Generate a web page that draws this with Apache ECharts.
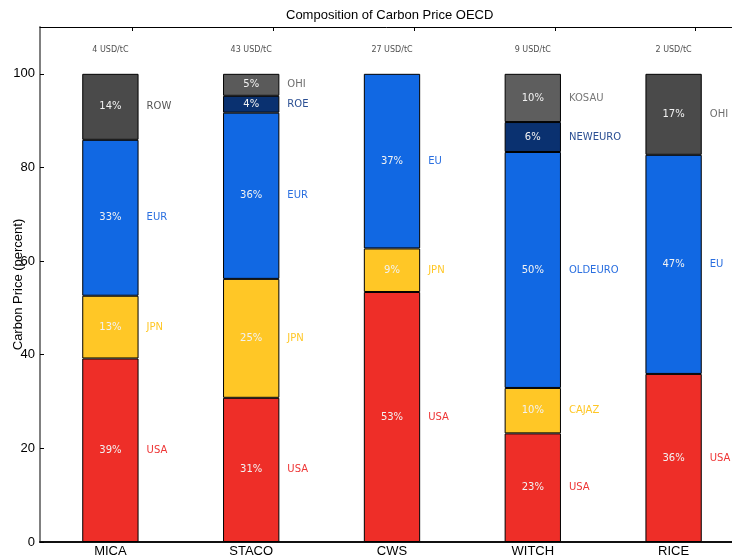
<!DOCTYPE html>
<html><head><meta charset="utf-8">
<script src="https://cdn.jsdelivr.net/npm/echarts@6/dist/echarts.min.js"></script>
<style>html,body{margin:0;padding:0;background:#fff}#c{width:732px;height:555px}</style>
</head><body><div id="c"></div>
<script>
// ---- data ----
const models = ['MICA', 'STACO', 'CWS', 'WITCH', 'RICE'];
const pricesUSDperTC = [4, 43, 27, 9, 2];
const yTicks = [0, 20, 40, 60, 80, 100];
const micaRegions = ['USA', 'JPN', 'EUR', 'ROW'];
const micaShares = [39.2, 13.4, 33.3, 14.1];
const stacoRegions = ['USA', 'JPN', 'EUR', 'ROE', 'OHI'];
const stacoShares = [30.8, 25.4, 35.5, 3.6, 4.7];
const cwsRegions = ['USA', 'JPN', 'EU'];
const cwsShares = [53.4, 9.3, 37.3];
const witchRegions = ['USA', 'CAJAZ', 'OLDEURO', 'NEWEURO', 'KOSAU'];
const witchShares = [23.2, 9.7, 50.4, 6.4, 10.3];
const riceRegions = ['USA', 'EU', 'OHI'];
const riceShares = [35.9, 46.8, 17.3];

// ---- styles ----
const fillColor = {
  USA: '#EE2E28', JPN: '#FFC726', CAJAZ: '#FFC726',
  EUR: '#1168E3', EU: '#1168E3', OLDEURO: '#1168E3',
  ROE: '#0A3170', NEWEURO: '#0A3170',
  ROW: '#4A4A4A', OHI: '#4A4A4A', KOSAU: '#5E5E5E'
};
const fillOverride = { 'STACO:OHI': '#5A5A5A' };
const textColor = {
  USA: '#EE3535', JPN: '#FFC726', CAJAZ: '#FFC726',
  EUR: '#2A6FE0', EU: '#2A6FE0', OLDEURO: '#2A6FE0',
  ROE: '#2B4F93', NEWEURO: '#2B4F93',
  ROW: '#555555', OHI: '#6E6E6E', KOSAU: '#777777'
};

const regionLists = [micaRegions, stacoRegions, cwsRegions, witchRegions, riceRegions];
const shareLists = [micaShares, stacoShares, cwsShares, witchShares, riceShares];
const levels = Math.max(...shareLists.map(s => s.length));

const series = [];
for (let lv = 0; lv < levels; lv++) {
  const dataMain = [], dataName = [];
  models.forEach((m, i) => {
    const v = shareLists[i][lv];
    if (v === undefined) { dataMain.push('-'); dataName.push('-'); return; }
    const r = regionLists[i][lv];
    dataMain.push({
      value: v,
      itemStyle: { color: fillOverride[m + ':' + r] || fillColor[r] }
    });
    dataName.push({
      value: v, region: r,
      label: { color: textColor[r] }
    });
  });
  series.push({
    type: 'bar', stack: 'shares', xAxisIndex: 0, yAxisIndex: 0,
    barWidth: '40%', barGap: '-100%',
    data: dataMain,
    itemStyle: { borderColor: '#000', borderWidth: 1 },
    label: {
      show: true, position: 'inside', color: '#F2F2F2',
      fontFamily: 'DejaVu Sans', fontSize: 10,
      formatter: p => Math.round(p.value) + '%'
    },
    silent: true, animation: false
  });
  series.push({
    type: 'bar', stack: 'names', xAxisIndex: 0, yAxisIndex: 0,
    barWidth: '40%', barGap: '-100%',
    data: dataName,
    itemStyle: { color: 'rgba(0,0,0,0)', borderWidth: 0 },
    label: {
      show: true, position: 'right', distance: 8,
      fontFamily: 'DejaVu Sans', fontSize: 10,
      formatter: p => p.data.region
    },
    silent: true, animation: false, z: 3
  });
}
// price annotations above bars
series.push({
  type: 'scatter', xAxisIndex: 0, yAxisIndex: 0,
  symbolSize: 0,
  data: pricesUSDperTC.map(p => 105),
  label: {
    show: true, position: 'inside', color: '#222',
    fontFamily: 'DejaVu Sans', fontSize: 8,
    formatter: p => pricesUSDperTC[p.dataIndex] + ' USD/tC'
  },
  silent: true, animation: false
});

const chart = echarts.init(document.getElementById('c'), null, { renderer: 'canvas' });
chart.setOption({
  animation: false,
  backgroundColor: '#fff',
  title: {
    text: 'Composition of Carbon Price OECD',
    left: 286, top: 9, padding: 0,
    textStyle: { fontFamily: 'Liberation Sans', fontSize: 13, fontWeight: 'normal', color: '#000' }
  },
  grid: [
    { left: 40, right: -12, top: 27, bottom: 13, outerBoundsMode: 'none', containLabel: false },
    { left: 62, right: -34, top: 27, bottom: 13, outerBoundsMode: 'none', containLabel: false }
  ],
  xAxis: [
    {
      type: 'category', gridIndex: 0, position: 'bottom', data: models,
      axisLine: { onZero: false, lineStyle: { color: '#111', width: 2 } },
      axisTick: { show: false },
      axisLabel: { color: '#000', fontFamily: 'Liberation Sans', fontSize: 13, margin: 3 }
    },
    {
      type: 'category', gridIndex: 0, position: 'top', data: models,
      axisLine: { onZero: false, lineStyle: { color: '#000', width: 1 } },
      axisTick: { show: false }, axisLabel: { show: false }
    },
    {
      type: 'category', gridIndex: 1, position: 'top', data: models,
      axisLine: { show: false, onZero: false },
      axisTick: { show: true, alignWithLabel: true, inside: true, length: 4, lineStyle: { color: '#000', width: 1 } },
      axisLabel: { show: false }
    }
  ],
  yAxis: [
    {
      type: 'value', gridIndex: 0, min: 0, max: 110,
      name: 'Carbon Price (percent)', nameLocation: 'middle', nameGap: 15,
      nameMoveOverlap: false,
      nameTextStyle: { fontFamily: 'Liberation Sans', fontSize: 13, color: '#000' },
      axisLine: { show: true, onZero: false, lineStyle: { color: '#808080', width: 2 } },
      axisTick: { show: true, inside: true, length: 4, customValues: yTicks, lineStyle: { color: '#000' } },
      axisLabel: { customValues: yTicks, color: '#000', fontFamily: 'Liberation Sans', fontSize: 13, margin: 5 },
      splitLine: { show: false }
    },
    {
      type: 'value', gridIndex: 1, min: 0, max: 110, show: false
    }
  ],
  series: series
});
</script>
</body></html>
